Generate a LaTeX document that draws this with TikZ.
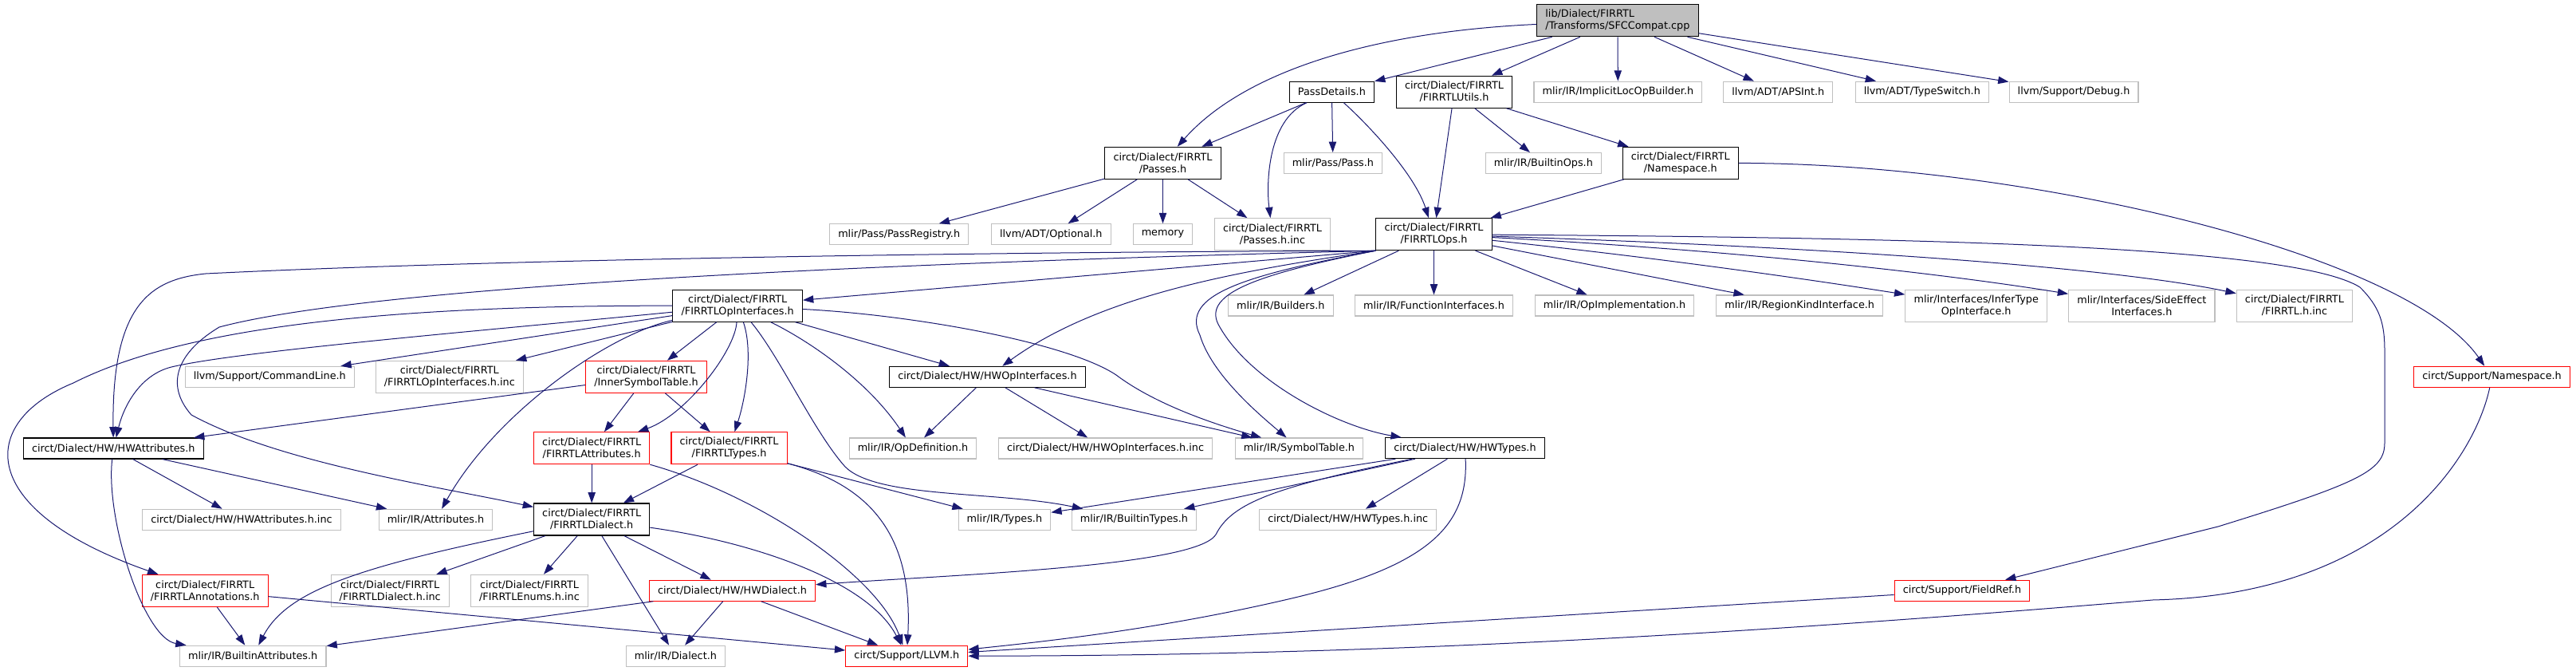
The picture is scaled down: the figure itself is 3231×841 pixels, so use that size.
\documentclass[tikz,border=0pt]{standalone}
\usepackage{fontspec}
\setmainfont{DejaVu Sans}
\usepackage{xcolor}
\usetikzlibrary{arrows.meta}
\definecolor{edgeBlue}{HTML}{191970}
\definecolor{greyBorder}{HTML}{BFBFBF}
\definecolor{truncRed}{HTML}{FF0000}
\newcommand{\depfont}{\fontsize{9.6pt}{11.25pt}\selectfont}
\tikzset{
  hdr/.style={draw=black, fill=white, line width=0.8pt, font=\depfont, inner xsep=8pt, inner ysep=1pt, minimum height=19.5pt, align=center},
  exthdr/.style={hdr, draw=greyBorder},
  cuthdr/.style={hdr, draw=truncRed},
  twoline/.style={minimum height=30pt},
  dep/.style={edgeBlue, line width=0.75pt, -{Triangle[length=10pt,width=7pt]}},
}

\begin{document}
\begin{tikzpicture}[x=0.75pt, y=-0.75pt]
    \useasboundingbox (0,0) rectangle (3231,841);

    % source file and first level
    \node[hdr, twoline, fill=greyBorder, align=left] (root) at (2028.9,25.8) {lib/Dialect/FIRRTL\\/Transforms/SFCCompat.cpp};
    \node[hdr] (pdet) at (1670.4,115.2) {PassDetails.h};
    \node[hdr, twoline] (utils) at (1824,115.2) {circt/Dialect/FIRRTL\\/FIRRTLUtils.h};
    \node[exthdr] (iloc) at (2029.4,115.2) {mlir/IR/ImplicitLocOpBuilder.h};
    \node[exthdr] (apsint) at (2230.3,115.2) {llvm/ADT/APSInt.h};
    \node[exthdr] (tswitch) at (2410.8,115.2) {llvm/ADT/TypeSwitch.h};
    \node[exthdr] (debug) at (2601,115.2) {llvm/Support/Debug.h};

    % second level
    \node[hdr, twoline] (passes) at (1458.5,204.3) {circt/Dialect/FIRRTL\\/Passes.h};
    \node[exthdr] (pass) at (1671.9,204.5) {mlir/Pass/Pass.h};
    \node[exthdr] (bops) at (1935.9,204.5) {mlir/IR/BuiltinOps.h};
    \node[hdr, twoline] (fns) at (2107.8,204.3) {circt/Dialect/FIRRTL\\/Namespace.h};

    % third level
    \node[exthdr] (preg) at (1127.7,293.7) {mlir/Pass/PassRegistry.h};
    \node[exthdr] (opt) at (1318.3,293.7) {llvm/ADT/Optional.h};
    \node[exthdr] (mem) at (1458.5,293.7) {memory};
    \node[exthdr, twoline] (pinc) at (1596,293.7) {circt/Dialect/FIRRTL\\/Passes.h.inc};
    \node[hdr, twoline] (fops) at (1798.5,293.7) {circt/Dialect/FIRRTL\\/FIRRTLOps.h};

    % fourth level
    \node[hdr, twoline] (fopi) at (925.2,383.2) {circt/Dialect/FIRRTL\\/FIRRTLOpInterfaces.h};
    \node[exthdr] (build) at (1606.3,383) {mlir/IR/Builders.h};
    \node[exthdr] (fint) at (1798.5,383) {mlir/IR/FunctionInterfaces.h};
    \node[exthdr] (opimpl) at (2025,383) {mlir/IR/OpImplementation.h};
    \node[exthdr] (rki) at (2257.2,383) {mlir/IR/RegionKindInterface.h};
    \node[exthdr, twoline] (infer) at (2478.7,383.2) {mlir/Interfaces/InferType\\OpInterface.h};
    \node[exthdr, twoline] (side) at (2686.3,383.2) {mlir/Interfaces/SideEffect\\Interfaces.h};
    \node[exthdr, twoline] (finc) at (2877.9,383.2) {circt/Dialect/FIRRTL\\/FIRRTL.h.inc};

    % fifth level
    \node[exthdr] (cmdl) at (338.3,472.3) {llvm/Support/CommandLine.h};
    \node[exthdr, twoline] (fopiinc) at (563.8,472.3) {circt/Dialect/FIRRTL\\/FIRRTLOpInterfaces.h.inc};
    \node[cuthdr, twoline] (isym) at (810.5,472.3) {circt/Dialect/FIRRTL\\/InnerSymbolTable.h};
    \node[hdr] (hwopi) at (1238.5,472.3) {circt/Dialect/HW/HWOpInterfaces.h};
    \node[cuthdr] (sns) at (3125.6,472.3) {circt/Support/Namespace.h};

    % sixth level
    \node[hdr] (hwattr) at (142.3,562) {circt/Dialect/HW/HWAttributes.h};
    \node[cuthdr, twoline] (fattr) at (742.2,561.8) {circt/Dialect/FIRRTL\\/FIRRTLAttributes.h};
    \node[cuthdr, twoline] (ftypes) at (914.6,561.8) {circt/Dialect/FIRRTL\\/FIRRTLTypes.h};
    \node[exthdr] (opdef) at (1145,562) {mlir/IR/OpDefinition.h};
    \node[exthdr] (hwopiinc) at (1386.5,562) {circt/Dialect/HW/HWOpInterfaces.h.inc};
    \node[exthdr] (symt) at (1629.5,562) {mlir/IR/SymbolTable.h};
    \node[hdr] (hwtypes) at (1837.5,561.7) {circt/Dialect/HW/HWTypes.h};

    % seventh level
    \node[exthdr] (hwattrinc) at (303,651.3) {circt/Dialect/HW/HWAttributes.h.inc};
    \node[exthdr] (attr) at (546.5,651.3) {mlir/IR/Attributes.h};
    \node[hdr, twoline] (fdial) at (742.2,651) {circt/Dialect/FIRRTL\\/FIRRTLDialect.h};
    \node[exthdr] (types) at (1259.9,651.3) {mlir/IR/Types.h};
    \node[exthdr] (btypes) at (1422.4,651.3) {mlir/IR/BuiltinTypes.h};
    \node[exthdr] (hwtinc) at (1690.7,651.3) {circt/Dialect/HW/HWTypes.h.inc};

    % eighth level
    \node[cuthdr, twoline] (fanno) at (257.2,740.3) {circt/Dialect/FIRRTL\\/FIRRTLAnnotations.h};
    \node[exthdr, twoline] (fdinc) at (489.2,740.3) {circt/Dialect/FIRRTL\\/FIRRTLDialect.h.inc};
    \node[exthdr, twoline] (fenum) at (664,740.3) {circt/Dialect/FIRRTL\\/FIRRTLEnums.h.inc};
    \node[cuthdr] (hwdial) at (918.5,740.2) {circt/Dialect/HW/HWDialect.h};
    \node[cuthdr] (fref) at (2460.9,740.2) {circt/Support/FieldRef.h};

    % bottom row
    \node[exthdr] (battr) at (317.2,822.2) {mlir/IR/BuiltinAttributes.h};
    \node[exthdr] (dial) at (847.4,822.2) {mlir/IR/Dialect.h};
    \node[cuthdr] (llvm) at (1137.3,822.2) {circt/Support/LLVM.h};

    % includes of the source file
    \draw[dep] (root) -- (pdet);
    \draw[dep] (root) -- (utils);
    \draw[dep] (root) -- (iloc);
    \draw[dep] (root) -- (apsint);
    \draw[dep] (root) -- (tswitch);
    \draw[dep] (root) -- (debug);
    \draw[dep] (root) .. controls (1720,40) and (1560,90) .. (passes);

    \draw[dep] (pdet) -- (passes);
    \draw[dep] (pdet) -- (pass);
    \draw[dep] (pdet) .. controls (1590,150) and (1588,230) .. (pinc);
    \draw[dep] (pdet) .. controls (1720,160) and (1775,220) .. (fops);

    \draw[dep] (utils) -- (fops);
    \draw[dep] (utils) -- (bops);
    \draw[dep] (utils) -- (fns);
    \draw[dep] (fns) -- (fops);
    \draw[dep] (fns) .. controls (2550,205) and (3020,320) .. (sns);

    \draw[dep] (passes) -- (preg);
    \draw[dep] (passes) -- (opt);
    \draw[dep] (passes) -- (mem);
    \draw[dep] (passes) -- (pinc);

    % FIRRTLOps.h
    \draw[dep] (fops.south west) -- (fopi);
    \draw[dep] (fops) -- (build);
    \draw[dep] (fops) -- (fint);
    \draw[dep] (fops) -- (opimpl);
    \draw[dep] (fops) -- (rki);
    \draw[dep] (fops) .. controls (2100,325) and (2300,355) .. (infer);
    \draw[dep] (fops) .. controls (2200,315) and (2450,345) .. (side);
    \draw[dep] (fops) .. controls (2300,310) and (2650,335) .. (finc);
    \draw[dep] (fops) .. controls (2450,298) and (2880,310) .. (2960,360)
        .. controls (2985,385) and (2991,405) .. (2991,440) -- (2991,555)
        .. controls (2991,590) and (2960,605) .. (2782,660) -- (fref);
    \draw[dep] (fops.south west) .. controls (1200,316) and (600,326) .. (258,343)
        .. controls (190,350) and (140,380) .. (hwattr);
    \draw[dep] (fops.south west) .. controls (1300,325) and (500,350) .. (275,410)
        .. controls (225,440) and (205,480) .. (240,520)
        .. controls (350,580) and (550,610) .. (fdial);
    \draw[dep] (fops.south west) .. controls (1550,340) and (1380,370) .. (hwopi);
    \draw[dep] (fops.south west) .. controls (1560,345) and (1480,370) .. (1505,420)
        .. controls (1520,470) and (1580,520) .. (symt);
    \draw[dep] (fops.south west) .. controls (1570,345) and (1505,370) .. (1530,410)
        .. controls (1570,480) and (1680,535) .. (hwtypes);

    % FIRRTLOpInterfaces.h
    \draw[dep] (fopi) -- (cmdl);
    \draw[dep] (fopi) -- (fopiinc);
    \draw[dep] (fopi) -- (isym);
    \draw[dep] (fopi) -- (hwopi);
    \draw[dep] (fopi) .. controls (550,383) and (250,400) .. (92,480)
        .. controls (-30,530) and (-30,640) .. (fanno);
    \draw[dep] (fopi) .. controls (600,415) and (300,440) .. (215,460)
        .. controls (175,470) and (155,510) .. (hwattr);
    \draw[dep] (fopi) .. controls (760,420) and (620,520) .. (attr);
    \draw[dep] (fopi) .. controls (922,440) and (860,520) .. (fattr);
    \draw[dep] (fopi) .. controls (945,440) and (935,500) .. (ftypes);
    \draw[dep] (fopi) .. controls (980,450) and (1020,540) .. (1060,585)
        .. controls (1100,625) and (1250,615) .. (btypes);
    \draw[dep] (fopi) .. controls (1020,430) and (1090,480) .. (opdef);
    \draw[dep] (fopi) .. controls (1150,395) and (1340,430) .. (1400,470)
        .. controls (1440,500) and (1500,525) .. (symt);

    \draw[dep] (isym) -- (hwattr);
    \draw[dep] (isym) -- (fattr);
    \draw[dep] (isym) -- (ftypes);

    \draw[dep] (hwopi) -- (opdef);
    \draw[dep] (hwopi) -- (hwopiinc);
    \draw[dep] (hwopi) -- (symt);

    \draw[dep] (hwattr) -- (hwattrinc);
    \draw[dep] (hwattr) -- (attr);
    \draw[dep] (hwattr) .. controls (132,650) and (180,800) .. (battr);

    \draw[dep] (fattr) -- (fdial);
    \draw[dep] (fattr) .. controls (950,620) and (1100,720) .. (llvm);
    \draw[dep] (ftypes) -- (fdial);
    \draw[dep] (ftypes) -- (types);
    \draw[dep] (ftypes) .. controls (1100,610) and (1145,680) .. (llvm);

    \draw[dep] (hwtypes) -- (types);
    \draw[dep] (hwtypes) -- (btypes);
    \draw[dep] (hwtypes) -- (hwtinc);
    \draw[dep] (hwtypes) .. controls (1600,610) and (1545,630) .. (1525,670)
        .. controls (1500,710) and (1200,720) .. (hwdial);
    \draw[dep] (hwtypes) .. controls (1842,660) and (1790,710) .. (1620,750)
        .. controls (1450,790) and (1300,805) .. (llvm);

    \draw[dep] (fdial) .. controls (450,710) and (360,740) .. (battr);
    \draw[dep] (fdial) -- (fdinc);
    \draw[dep] (fdial) -- (fenum);
    \draw[dep] (fdial) -- (dial);
    \draw[dep] (fdial) -- (hwdial);
    \draw[dep] (fdial) .. controls (950,680) and (1090,730) .. (llvm);

    \draw[dep] (hwdial) -- (battr);
    \draw[dep] (hwdial) -- (dial);
    \draw[dep] (hwdial) -- (llvm);

    \draw[dep] (fanno) -- (battr);
    \draw[dep] (fanno) -- (llvm);

    \draw[dep] (fref) -- (llvm);
    \draw[dep] (sns) .. controls (3105,570) and (3000,745) .. (2700,752)
        .. controls (2300,785) and (1800,822) .. (llvm);
\end{tikzpicture}
\end{document}
